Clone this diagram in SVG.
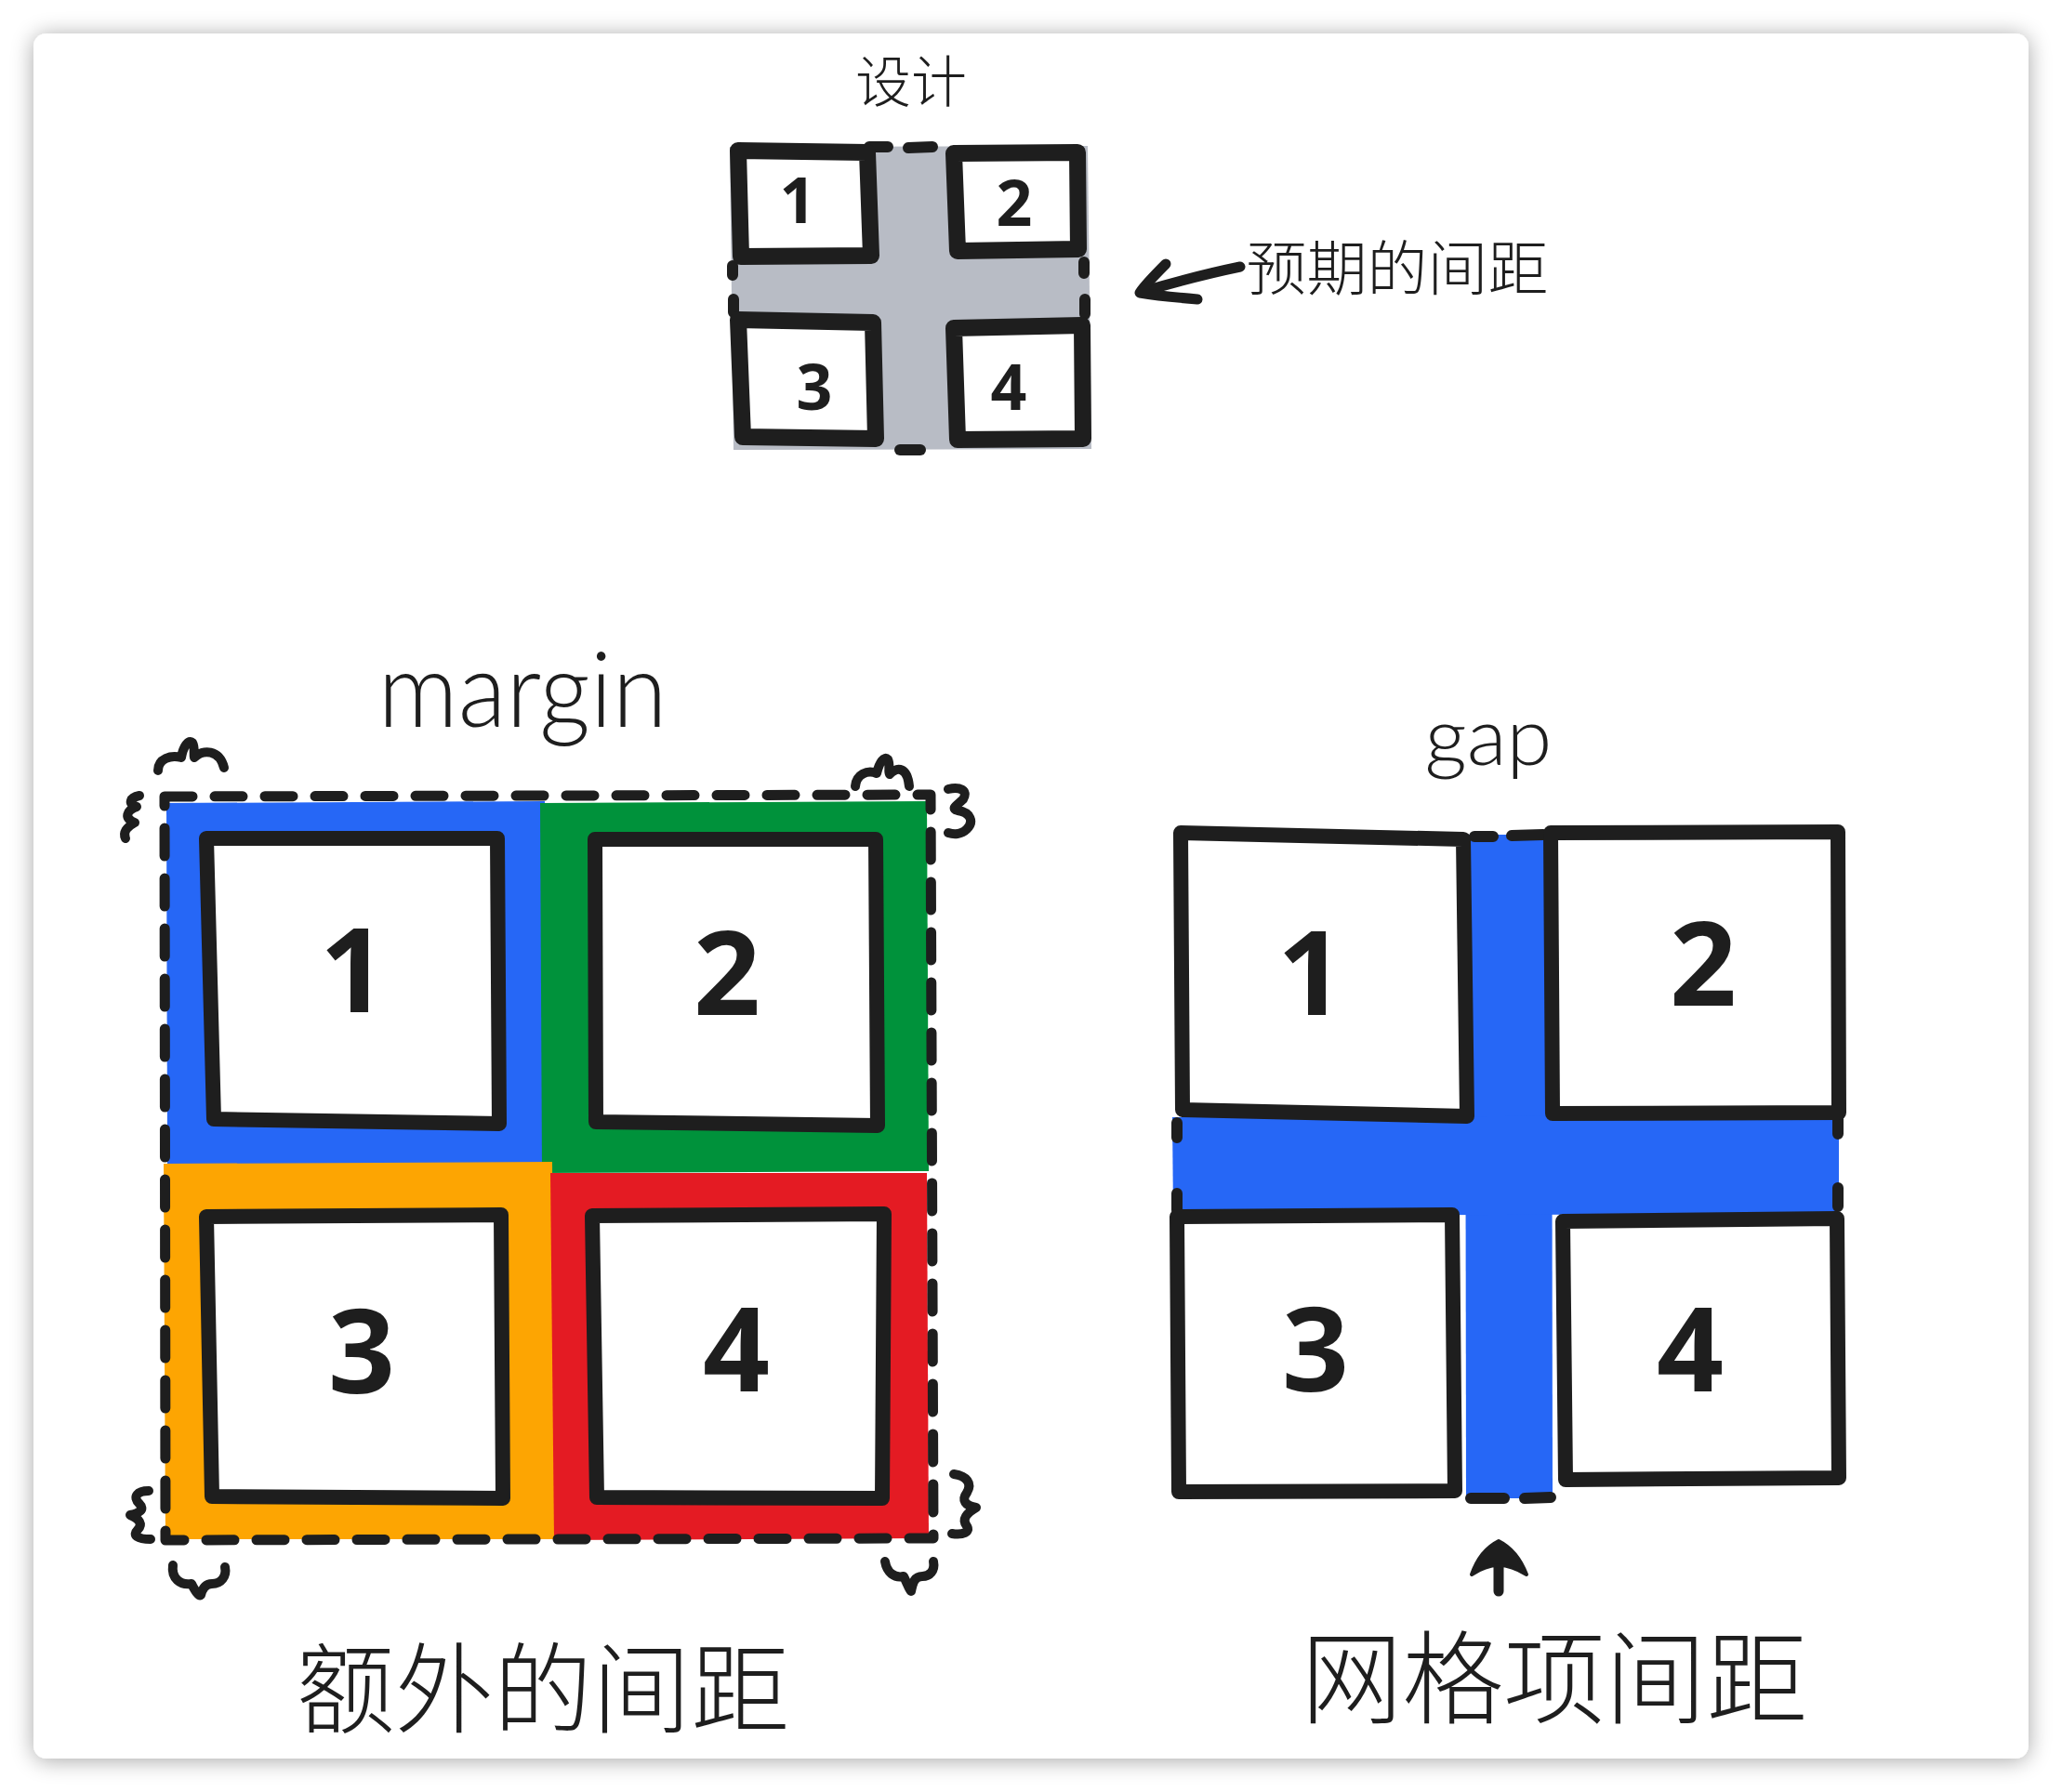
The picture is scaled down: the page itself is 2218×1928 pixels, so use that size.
<svg xmlns="http://www.w3.org/2000/svg" width="2218" height="1928" viewBox="0 0 2218 1928">
  <defs>
    <filter id="shadow" x="-5%" y="-5%" width="110%" height="110%">
      <feGaussianBlur in="SourceAlpha" stdDeviation="12"/>
      <feOffset dx="0" dy="2" result="b"/>
      <feComponentTransfer><feFuncA type="linear" slope="0.35"/></feComponentTransfer>
      <feMerge><feMergeNode/><feMergeNode in="SourceGraphic"/></feMerge>
    </filter>
    <style>
      .box { fill: #ffffff; stroke: #1e1e1e; stroke-width: 16; stroke-linejoin: round; stroke-linecap: round; }
      .boxs { fill: #ffffff; stroke: #1e1e1e; stroke-width: 18; stroke-linejoin: round; stroke-linecap: round; }
      .ink { fill: none; stroke: #1e1e1e; stroke-linecap: round; stroke-linejoin: round; }
      .num { font-family: "Noto Sans", "DejaVu Sans", sans-serif; font-weight: 700; fill: #1e1e1e; text-anchor: middle; }
      .hand { font-family: "Lato", "Noto Sans", sans-serif; font-weight: 300; fill: #1e1e1e; text-anchor: middle; }
      .cjk { font-family: "Noto Sans CJK SC Light", "Noto Sans CJK SC DemiLight", "Noto Sans CJK SC", "Noto Sans", sans-serif; font-weight: 300; fill: #1e1e1e; text-anchor: middle; }
    </style>
  </defs>

  <rect x="0" y="0" width="2218" height="1928" fill="#ffffff"/>
  <g id="card">
    <rect x="36" y="36" width="2146" height="1856" rx="14" fill="#ffffff" filter="url(#shadow)"/>
  </g>

  <!-- Top: design -->
  <g id="design">
    <text class="cjk" x="980" y="110" font-size="60">设计</text>
    <path id="design-gap" d="M785,158 L1170,157 L1174,483 L789,484 Z" fill="#b8bcc5"/>
    <g class="ink" stroke-width="12">
      <path d="M935,158 L955,158 M977,159 L1003,158"/>
      <path d="M968,484 L990,484"/>
      <path d="M788,286 L788,296 M789,322 L789,336"/>
      <path d="M1166,282 L1166,294 M1167,322 L1167,338"/>
    </g>
    <g id="design-1">
      <path class="boxs" d="M794,162 L933,164 L937,275 L797,276 Z"/>
      <text class="num" x="858" y="240" font-size="68">1</text>
    </g>
    <g id="design-2">
      <path class="boxs" d="M1026,165 L1159,164 L1160,268 L1030,270 Z"/>
      <text class="num" x="1091" y="243" font-size="68">2</text>
    </g>
    <g id="design-3">
      <path class="boxs" d="M794,344 L939,347 L942,472 L799,470 Z"/>
      <text class="num" x="876" y="441" font-size="68">3</text>
    </g>
    <g id="design-4">
      <path class="boxs" d="M1026,353 L1164,350 L1165,472 L1030,473 Z"/>
      <text class="num" x="1085" y="441" font-size="68">4</text>
    </g>
    <text class="cjk" x="1503" y="312" font-size="64" textLength="325" lengthAdjust="spacingAndGlyphs">预期的间距</text>
  </g>

  <!-- Bottom left: margin -->
  <g id="margin">
    <text class="hand" x="562" y="782" font-size="112" textLength="311" lengthAdjust="spacingAndGlyphs">margin</text>
    <path id="m-blue" d="M179,864 L586,862 L588,1256 L180,1254 Z" fill="#2667f6"/>
    <path id="m-green" d="M581,864 L997,862 L999,1260 L583,1262 Z" fill="#00923b"/>
    <path id="m-orange" d="M176,1252 L594,1250 L597,1656 L178,1656 Z" fill="#fda502"/>
    <path id="m-red" d="M592,1262 L997,1262 L999,1655 L596,1657 Z" fill="#e41b23"/>
    <path id="m-outline" class="ink" stroke-width="11" stroke-dasharray="30 24" d="M177,857 L1001,855 L1004,1655 L178,1657 Z"/>
    <g id="m-markers" class="ink" stroke-width="10">
      <path d="M170,829 C170,816 184,812 195,815 C197,803 203,795 207,799 C210,804 208,812 209,815 C218,806 236,806 241,826"/>
      <path d="M150,856 C140,858 137,864 147,868 C136,872 133,880 145,885 C136,890 132,896 135,902"/>
      <path d="M920,846 C921,833 933,828 943,832 C946,820 951,813 955,817 C958,823 955,830 957,833 C966,824 976,826 978,846"/>
      <path d="M1020,849 C1032,846 1042,850 1036,860 C1030,866 1022,870 1030,872 C1044,874 1048,884 1040,892 C1034,898 1026,898 1020,896"/>
      <path d="M160,1604 C148,1604 142,1610 150,1618 C156,1624 150,1628 140,1630 C150,1634 154,1640 148,1646 C142,1652 148,1656 162,1656"/>
      <path d="M186,1684 C184,1698 194,1706 206,1704 C210,1712 214,1718 216,1716 C218,1708 222,1704 228,1704 C238,1704 244,1696 242,1686"/>
      <path d="M1026,1586 C1040,1588 1046,1596 1040,1606 C1034,1614 1038,1620 1050,1622 C1040,1628 1034,1634 1040,1642 C1044,1648 1036,1652 1024,1650"/>
      <path d="M952,1680 C954,1692 962,1698 972,1696 C976,1704 978,1710 980,1712 C982,1702 984,1696 992,1696 C1000,1696 1006,1690 1004,1680"/>
    </g>
    <g id="margin-1">
      <path class="box" d="M222,902 L535,902 L537,1209 L230,1204 Z"/>
      <text class="num" x="380" y="1089" font-size="126">1</text>
    </g>
    <g id="margin-2">
      <path class="box" d="M640,903 L942,903 L944,1211 L641,1207 Z"/>
      <text class="num" x="782" y="1092" font-size="126">2</text>
    </g>
    <g id="margin-3">
      <path class="box" d="M222,1309 L539,1307 L541,1612 L228,1610 Z"/>
      <text class="num" x="389" y="1499" font-size="126">3</text>
    </g>
    <g id="margin-4">
      <path class="box" d="M637,1308 L951,1306 L949,1612 L642,1611 Z"/>
      <text class="num" x="792" y="1497" font-size="126">4</text>
    </g>
    <text class="cjk" x="584" y="1856" font-size="106" textLength="531" lengthAdjust="spacingAndGlyphs">额外的间距</text>
  </g>

  <!-- Bottom right: gap -->
  <g id="gap">
    <text class="hand" x="1601" y="823" font-size="86" textLength="137" lengthAdjust="spacingAndGlyphs">gap</text>
    <path id="gap-v" d="M1576,898 L1669,898 L1670,1612 L1577,1612 Z" fill="#2667f6"/>
    <path id="gap-h" d="M1261,1202 L1978,1200 L1978,1306 L1262,1308 Z" fill="#2667f6"/>
    <g class="ink" stroke-width="12">
      <path d="M1266,1208 L1266,1224 M1266,1284 L1266,1302"/>
      <path d="M1977,1204 L1977,1220 M1977,1278 L1977,1298"/>
      <path d="M1586,900 L1606,900 M1626,899 L1660,898"/>
      <path d="M1582,1612 L1618,1612 M1640,1612 L1668,1611"/>
    </g>
    <g id="gap-1">
      <path class="box" d="M1270,896 L1574,903 L1578,1201 L1272,1194 Z"/>
      <text class="num" x="1410" y="1092" font-size="126">1</text>
    </g>
    <g id="gap-2">
      <path class="box" d="M1668,896 L1977,895 L1978,1197 L1670,1198 Z"/>
      <text class="num" x="1832" y="1082" font-size="126">2</text>
    </g>
    <g id="gap-3">
      <path class="box" d="M1266,1309 L1562,1307 L1565,1604 L1268,1605 Z"/>
      <text class="num" x="1415" y="1497" font-size="126">3</text>
    </g>
    <g id="gap-4">
      <path class="box" d="M1681,1314 L1976,1311 L1978,1590 L1684,1592 Z"/>
      <text class="num" x="1818" y="1497" font-size="126">4</text>
    </g>
    <text class="cjk" x="1672" y="1846" font-size="109" textLength="545" lengthAdjust="spacingAndGlyphs">网格项间距</text>
  </g>

  <!-- Connectors -->
  <g id="connectors">
    <g class="ink" stroke-width="11">
      <path d="M1334,287 C1300,294 1262,304 1228,314"/>
      <path d="M1254,284 C1242,296 1232,306 1226,315 C1244,318 1264,320 1288,322"/>
      <path d="M1612,1680 L1612,1712"/>
    </g>
    <path d="M1612,1658 Q1592,1668 1583,1694 Q1598,1684 1612,1684 Q1626,1684 1642,1694 Q1632,1668 1612,1658 Z" fill="#1e1e1e" stroke="#1e1e1e" stroke-width="4" stroke-linejoin="round"/>
  </g>
</svg>
